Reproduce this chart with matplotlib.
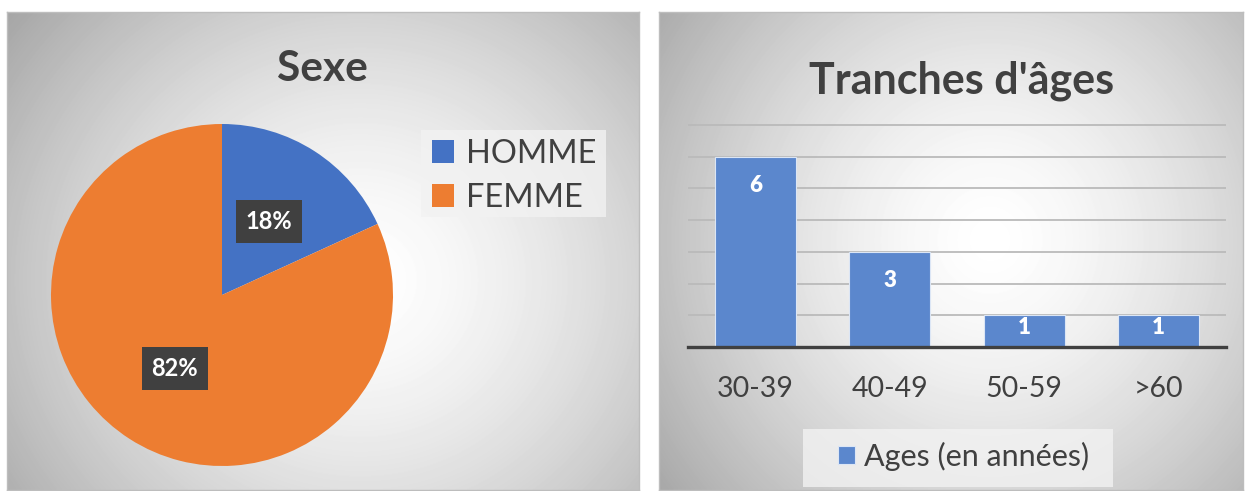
import numpy as np
import matplotlib
matplotlib.use('Agg')
import matplotlib.pyplot as plt
from matplotlib.patches import Rectangle

# ---------------- data ----------------
sexe_labels = ['HOMME', 'FEMME']
sexe_values = [2, 9]
sexe_colors = ['#4472C4', '#ED7D31']

age_categories = ['30-39', '40-49', '50-59', '>60']
age_values = [6, 3, 1, 1]
age_series = 'Ages (en années)'
age_color = '#5b87cd'

TXT = '#404040'
W, H = 1246, 491

plt.rcParams['font.family'] = ['Lato', 'DejaVu Sans']
fig = plt.figure(figsize=(W / 100, H / 100), dpi=100)
fig.patch.set_facecolor('white')


def px_axes(x0, y0, x1, y1, **kw):
    return fig.add_axes([x0 / W, 1 - y1 / H, (x1 - x0) / W, (y1 - y0) / H], **kw)


def px_rect(x0, y0, x1, y1, **kw):
    r = Rectangle((x0 / W, 1 - y1 / H), (x1 - x0) / W, (y1 - y0) / H,
                  transform=fig.transFigure, **kw)
    fig.patches.append(r)
    return r


def panel(x0, y0, x1, y1, cx, cy):
    ax = px_axes(x0, y0, x1, y1)
    w = x1 - x0
    h = y1 - y0
    X, Y = np.meshgrid(np.arange(w) + x0, np.arange(h) + y0)
    r = np.sqrt(((X - cx) / (w * 0.6)) ** 2 + ((Y - cy) / (h * 0.75)) ** 2)
    v = np.clip(1 - 0.27 * r ** 1.5, 0, 1)
    ax.imshow(v, cmap='gray', vmin=0, vmax=1, extent=(0, 1, 0, 1),
              aspect='auto', interpolation='bilinear')
    ax.set_xlim(0, 1)
    ax.set_ylim(0, 1)
    ax.set_xticks([])
    ax.set_yticks([])
    for s in ax.spines.values():
        s.set_color('#bdbdbd')
        s.set_linewidth(1)
    ax.set_zorder(-1)
    return ax


panel(7, 12, 639, 490, 360, 280)
panel(659, 12, 1243, 490, 990, 240)

# ---------------- pie ----------------
axp = px_axes(51, 124, 393, 466)
wedges, texts, autotexts = axp.pie(
    sexe_values, colors=sexe_colors, startangle=90, counterclock=False,
    autopct='%1.0f%%', pctdistance=0.51, wedgeprops=dict(linewidth=0),
    textprops=dict(color='white', fontsize=17, fontweight='bold'))
for t in autotexts:
    t.set_bbox(dict(boxstyle='square,pad=0.42', facecolor='#404040', edgecolor='none'))
axp.set_xlim(-1, 1)
axp.set_ylim(-1, 1)
axp.set_aspect('equal')
axp.patch.set_alpha(0)

px_rect(421, 130, 606, 217, facecolor='#f2f2f2', edgecolor='none', alpha=0.8, zorder=1)
leg1 = fig.legend(wedges, sexe_labels, loc='center',
                  bbox_to_anchor=(514 / W, 1 - 176 / H), frameon=False,
                  fontsize=23.5, handlelength=0.7, handleheight=0.7,
                  handletextpad=0.35, labelspacing=0.45, borderpad=0.2,
                  labelcolor=TXT)

fig.text(322 / W, 1 - 81 / H, 'Sexe', ha='center', va='baseline',
         fontsize=30.5, fontweight='bold', color=TXT)

# ---------------- bars ----------------
axb = px_axes(688, 120, 1226, 347)
x = np.arange(len(age_values))
bars = axb.bar(x, age_values, width=0.6, color=age_color,
               edgecolor='#dce6f5', linewidth=0.8, zorder=3)
axb.set_xlim(-0.5, len(age_values) - 0.5)
axb.set_ylim(0, 7.16)
axb.set_yticks(range(0, 8))
axb.yaxis.grid(True, color='#bababa', linewidth=1.3)
axb.set_axisbelow(True)
axb.tick_params(axis='y', left=False, labelleft=False)
axb.set_xticks(x, age_categories)
axb.tick_params(axis='x', length=0, pad=21, labelsize=20.5, labelcolor=TXT)
for k in ['top', 'left', 'right']:
    axb.spines[k].set_visible(False)
axb.spines['bottom'].set_color('#404040')
axb.spines['bottom'].set_linewidth(2.4)
axb.spines['bottom'].set_zorder(5)
axb.patch.set_alpha(0)
for xi, v in zip(x, age_values):
    axb.text(xi, max(v - 0.9, v / 2 + 0.1), str(v), ha='center', va='center',
             color='white', fontsize=16, fontweight='heavy', zorder=6)

px_rect(803, 429, 1113, 487, facecolor='#f2f2f2', edgecolor='none', alpha=0.8, zorder=1)
leg2 = fig.legend([bars], [age_series], loc='center',
                  bbox_to_anchor=(964 / W, 1 - 456 / H), frameon=False,
                  fontsize=22, handlelength=0.55, handleheight=0.55,
                  handletextpad=0.3, borderpad=0.2, labelcolor=TXT)

fig.text(962 / W, 1 - 94 / H, "Tranches d'âges", ha='center', va='baseline',
         fontsize=31, fontweight='bold', color=TXT)

fig.savefig('out.png', dpi=100, facecolor='white')
